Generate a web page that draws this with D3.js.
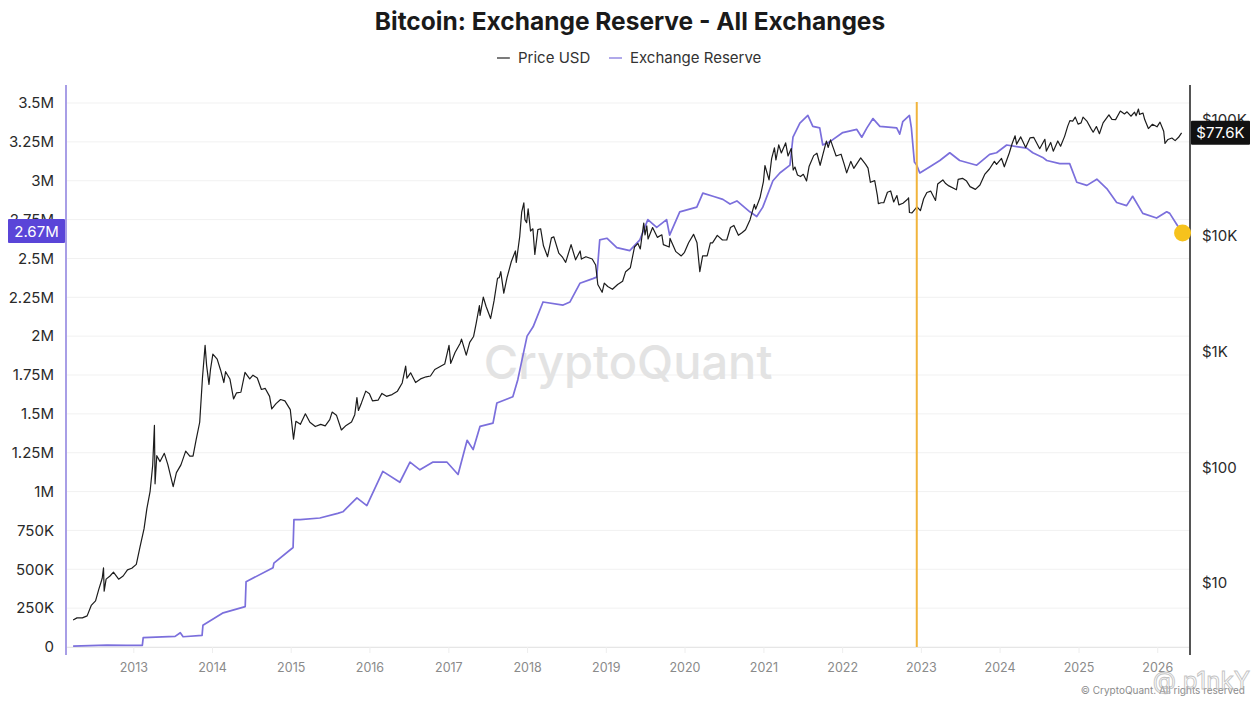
<!DOCTYPE html>
<html>
<head>
<meta charset="utf-8">
<script src="https://cdn.jsdelivr.net/npm/d3@7"></script>
<style>
  html, body { margin: 0; padding: 0; background: #fff; }
  svg { display: block; font-family: Inter, "Noto Sans", sans-serif; }
</style>
</head>
<body>
<div id="chart"></div>
<script>
// Axis ticks
const reserveTicks = [0, 250000, 500000, 750000, 1000000, 1250000, 1500000, 1750000, 2000000, 2250000, 2500000, 2750000, 3000000, 3250000, 3500000];
const reserveTickLabels = ["0", "250K", "500K", "750K", "1M", "1.25M", "1.5M", "1.75M", "2M", "2.25M", "2.5M", "2.75M", "3M", "3.25M", "3.5M"];
const priceTicks = [10, 100, 1000, 10000, 100000];
const priceTickLabels = ["$10", "$100", "$1K", "$10K", "$100K"];
const years = [2013, 2014, 2015, 2016, 2017, 2018, 2019, 2020, 2021, 2022, 2023, 2024, 2025, 2026];

// Price USD (log axis, right)
const priceDates = ["2012-03-28","2012-04-15","2012-05-10","2012-06-01","2012-06-20","2012-07-10","2012-07-25","2012-08-10","2012-08-16","2012-08-19","2012-08-28","2012-09-15","2012-10-01","2012-10-25","2012-11-15","2012-12-05","2012-12-25",
"2013-01-15","2013-02-01","2013-02-20","2013-03-05","2013-03-20","2013-04-01","2013-04-09","2013-04-12","2013-04-20","2013-05-05","2013-05-25","2013-06-10","2013-07-05","2013-07-20","2013-08-10","2013-09-01","2013-09-20","2013-10-05","2013-10-20","2013-11-05","2013-11-18","2013-11-30","2013-12-07","2013-12-18","2013-12-25",
"2014-01-05","2014-01-25","2014-02-10","2014-02-25","2014-03-05","2014-03-25","2014-04-11","2014-04-25","2014-05-15","2014-06-03","2014-06-25","2014-07-10","2014-07-30","2014-08-18","2014-09-05","2014-09-25","2014-10-05","2014-10-25","2014-11-15","2014-12-05","2014-12-30",
"2015-01-14","2015-01-25","2015-02-15","2015-03-10","2015-03-31","2015-04-25","2015-05-20","2015-06-10","2015-07-01","2015-07-12","2015-08-01","2015-08-24","2015-09-15","2015-10-10","2015-10-25","2015-11-04","2015-11-11","2015-11-25","2015-12-15",
"2016-01-01","2016-01-15","2016-02-10","2016-02-28","2016-03-20","2016-04-15","2016-05-10","2016-06-01","2016-06-17","2016-06-23","2016-07-10","2016-08-02","2016-08-25","2016-09-20","2016-10-10","2016-10-30","2016-11-20","2016-12-15",
"2017-01-04","2017-01-12","2017-02-01","2017-02-25","2017-03-03","2017-03-25","2017-04-10","2017-04-28","2017-05-10","2017-05-25","2017-05-28","2017-06-12","2017-06-25","2017-07-16","2017-08-01","2017-08-17","2017-08-25","2017-09-01","2017-09-15","2017-09-30","2017-10-20","2017-11-08","2017-11-12","2017-11-28","2017-12-07","2017-12-17","2017-12-22","2017-12-30",
"2018-01-06","2018-01-17","2018-01-28","2018-02-06","2018-02-20","2018-03-05","2018-03-18","2018-04-06","2018-04-24","2018-05-05","2018-05-28","2018-06-15","2018-06-29","2018-07-24","2018-08-14","2018-09-04","2018-09-10","2018-10-01","2018-10-30","2018-11-15","2018-11-25","2018-12-15","2018-12-25",
"2019-01-10","2019-02-01","2019-02-25","2019-03-20","2019-04-03","2019-04-25","2019-05-14","2019-05-30","2019-06-10","2019-06-26","2019-07-02","2019-07-10","2019-07-16","2019-08-06","2019-08-28","2019-09-18","2019-09-25","2019-10-22","2019-10-26","2019-11-22","2019-12-17",
"2020-01-01","2020-01-20","2020-02-12","2020-02-28","2020-03-12","2020-03-25","2020-04-15","2020-04-30","2020-05-10","2020-06-01","2020-06-25","2020-07-15","2020-08-01","2020-08-17","2020-09-07","2020-09-25","2020-10-10","2020-10-31","2020-11-20","2020-11-26","2020-12-16",
"2021-01-01","2021-01-08","2021-01-27","2021-02-08","2021-02-21","2021-02-28","2021-03-13","2021-03-25","2021-04-14","2021-04-25","2021-05-10","2021-05-19","2021-05-27","2021-06-08","2021-06-22","2021-07-05","2021-07-20","2021-08-01","2021-08-22","2021-09-06","2021-09-21","2021-10-05","2021-10-20","2021-10-28","2021-11-08","2021-11-20","2021-12-04","2021-12-27",
"2022-01-10","2022-01-22","2022-02-10","2022-02-24","2022-03-28","2022-04-20","2022-05-01","2022-05-12","2022-06-01","2022-06-13","2022-06-18","2022-07-01","2022-07-13","2022-07-30","2022-08-14","2022-08-28","2022-09-12","2022-09-21","2022-10-10","2022-10-30","2022-11-05","2022-11-09","2022-11-21","2022-12-14","2022-12-30",
"2023-01-14","2023-01-29","2023-02-16","2023-03-10","2023-03-20","2023-04-13","2023-04-26","2023-05-11","2023-06-15","2023-06-23","2023-07-13","2023-08-01","2023-08-17","2023-09-11","2023-10-02","2023-10-24","2023-11-15","2023-12-08","2023-12-18",
"2024-01-10","2024-01-23","2024-02-15","2024-02-28","2024-03-13","2024-03-20","2024-04-08","2024-05-01","2024-05-21","2024-06-07","2024-07-05","2024-07-29","2024-08-05","2024-08-25","2024-09-06","2024-09-27","2024-10-10","2024-10-29","2024-11-12","2024-11-22","2024-12-05","2024-12-17","2024-12-30",
"2025-01-13","2025-01-22","2025-02-10","2025-02-28","2025-03-10","2025-03-25","2025-04-08","2025-04-25","2025-05-22","2025-06-05","2025-06-22","2025-07-14","2025-08-02","2025-08-14","2025-09-01","2025-09-18","2025-09-25","2025-10-06","2025-10-11","2025-10-27","2025-11-04","2025-11-21","2025-12-10","2025-12-31",
"2026-01-14","2026-01-31","2026-02-06","2026-02-20","2026-03-10","2026-03-25","2026-04-10","2026-04-24"];
const priceValues = [4.8,5.0,5.0,5.2,6.4,7.0,8.8,11.0,13.5,8.5,10.8,11.5,12.4,10.8,11.5,13.0,13.4,
14.5,20.4,29.5,44,62,104,230,72,126,112,132,106,68,90,105,138,125,125,175,245,600,1130,760,520,700,
950,860,690,540,670,580,390,440,445,660,580,625,590,470,480,410,320,355,385,375,315,
175,250,235,290,245,225,235,228,258,300,282,210,230,246,285,400,310,360,455,
432,375,380,435,410,425,455,535,750,590,655,540,580,605,615,700,735,780,
1130,790,980,1180,1280,930,1200,1350,1750,2500,2050,2950,2450,1930,2750,4300,4350,4900,3200,4350,6000,7400,5900,9900,16000,19300,13800,13000,
17100,11000,11500,6900,11300,11500,8200,6600,9600,9800,7100,6500,5900,8400,6200,7400,6300,6600,6300,5600,3800,3250,3900,
3650,3450,3800,4050,4900,5300,8000,8600,7700,12900,10200,12200,9400,11800,9700,10200,8400,8000,9500,7300,6700,
7200,8700,10300,8700,4900,6700,6700,8700,8700,10100,9200,9200,11800,12300,10100,10700,11300,13800,18700,17000,21300,
29400,40500,30400,46400,57500,45200,61000,52000,63500,49000,56800,37000,39300,33500,32500,34000,29800,40000,49300,51700,40700,51500,65900,58000,67500,58100,49000,50700,
41800,35000,44000,38300,47100,41400,38500,29000,30000,22500,19000,19300,19300,23800,24400,19600,22300,18500,19100,20600,21300,15900,15800,17800,16500,
20900,23700,24300,20200,28000,30400,28300,27000,25000,30700,31400,29700,26600,25200,27500,33900,37800,44000,41400,
46600,39500,52000,62500,73100,62000,71600,58000,70100,71000,56600,68200,54000,64100,53900,66000,59500,72700,88700,98900,98000,106100,92300,
94500,106000,97400,84400,78600,88000,76300,94600,111000,101500,100900,119800,113000,118000,108000,117000,109000,124700,112000,115000,101000,84500,92000,87500,
96000,80000,63000,68000,70000,66500,71000,77600];

// Exchange Reserve (BTC, left axis)
const reserveDates = ["2012-03-28","2012-09-01","2012-12-03","2013-02-12","2013-02-16","2013-07-14","2013-08-07","2013-08-20","2013-11-16","2013-11-20","2014-02-22","2014-06-04","2014-06-08","2014-10-11","2014-10-15","2015-01-12","2015-01-16","2015-02-14","2015-05-16","2015-08-07","2015-08-31","2015-11-04","2015-12-20",
"2016-03-03","2016-05-21","2016-07-07","2016-08-22","2016-10-22","2016-12-25","2017-02-15","2017-03-29","2017-04-26","2017-05-28","2017-07-27","2017-08-14","2017-10-27","2017-11-19","2018-01-01","2018-01-29","2018-03-16","2018-06-17","2018-07-19","2018-09-03","2018-11-02","2018-11-20","2018-12-04",
"2019-01-06","2019-02-21","2019-04-22","2019-06-08","2019-07-15","2019-08-25","2019-10-10","2019-10-24","2019-12-10","2020-02-27","2020-03-26","2020-05-12","2020-06-27","2020-07-30","2020-08-31","2020-10-30","2020-12-01","2020-12-29",
"2021-02-14","2021-03-18","2021-05-04","2021-05-18","2021-06-19","2021-07-26","2021-08-18","2021-09-19","2021-10-03","2021-11-04","2022-01-04","2022-03-10","2022-04-02","2022-04-26","2022-05-24","2022-06-25","2022-09-11","2022-09-25","2022-10-09","2022-11-09","2022-11-18","2022-12-02","2022-12-13","2022-12-27",
"2023-02-12","2023-03-30","2023-05-15","2023-06-30","2023-09-17","2023-11-16","2023-12-18","2024-02-03","2024-03-20","2024-05-06","2024-06-03","2024-07-19","2024-08-07","2024-10-06","2024-11-21","2024-12-24",
"2025-02-09","2025-03-27","2025-05-12","2025-06-27","2025-08-12","2025-09-09","2025-10-26","2025-12-29","2026-02-14","2026-02-28","2026-04-01","2026-04-24"];
const reserveValues = [0.005,0.012,0.010,0.010,0.060,0.068,0.092,0.066,0.075,0.140,0.220,0.260,0.420,0.510,0.540,0.640,0.820,0.820,0.830,0.860,0.870,0.960,0.910,
1.13,1.06,1.19,1.14,1.19,1.19,1.11,1.33,1.27,1.42,1.44,1.57,1.61,1.72,2.00,2.06,2.22,2.20,2.22,2.34,2.37,2.38,2.62,
2.63,2.57,2.55,2.62,2.75,2.70,2.75,2.65,2.80,2.83,2.92,2.90,2.88,2.85,2.87,2.80,2.77,2.83,
3.00,3.05,3.10,3.28,3.37,3.42,3.35,3.34,3.23,3.25,3.31,3.33,3.28,3.34,3.40,3.35,3.34,3.30,3.38,3.42,3.34,3.12,3.10,3.05,
3.09,3.13,3.18,3.13,3.10,3.17,3.18,3.23,3.22,3.21,3.18,3.15,3.13,3.11,3.11,2.99,
2.97,3.01,2.95,2.86,2.84,2.90,2.79,2.76,2.80,2.79,2.72,2.67].map(v => v * 1e6);

// Highlighted date (vertical marker)
const markerDates = ["2022-12-13"];

function createReserveChart() {
    const width = 1260;
    const height = 704;
    const left = 66, right = 1190, top = 85, bottom = 647;
    const parse = d3.timeParse("%Y-%m-%d");

    const price = priceDates.map((d, i) => ({ date: parse(d), value: priceValues[i] }));
    const reserve = reserveDates.map((d, i) => ({ date: parse(d), value: reserveValues[i] }));

    const svg = d3.select("#chart")
        .append("svg")
        .attr("width", width)
        .attr("height", height);

    const x = d3.scaleTime()
        .domain([parse("2012-02-24"), parse("2026-06-02")])
        .range([left, right]);
    const yL = d3.scaleLinear()
        .domain([0, 3616000])
        .range([bottom, top]);
    const yR = d3.scaleLog()
        .domain([2.8, 201000])
        .range([bottom, top]);

    // Title and legend
    svg.append("text")
        .attr("x", 630).attr("y", 30)
        .attr("text-anchor", "middle")
        .attr("font-size", 24.5).attr("font-weight", 700)
        .attr("fill", "#1a1a1a")
        .text("Bitcoin: Exchange Reserve - All Exchanges");

    const legend = [
        { label: "Price USD", color: "#222", x: 497 },
        { label: "Exchange Reserve", color: "#7b6fdc", x: 609 }
    ];
    legend.forEach(l => {
        svg.append("line")
            .attr("x1", l.x).attr("x2", l.x + 13)
            .attr("y1", 58).attr("y2", 58)
            .attr("stroke", l.color).attr("stroke-width", 1.2);
        svg.append("text")
            .attr("x", l.x + 21).attr("y", 62.5)
            .attr("font-size", 15).attr("fill", "#333")
            .text(l.label);
    });

    // Gridlines
    svg.append("g")
        .selectAll("line")
        .data(reserveTicks)
        .join("line")
        .attr("x1", left).attr("x2", right)
        .attr("y1", d => yL(d)).attr("y2", d => yL(d))
        .attr("stroke", "#f1f1f1");

    // Watermark
    svg.append("text")
        .attr("x", 628).attr("y", 379)
        .attr("text-anchor", "middle")
        .attr("font-size", 47).attr("font-weight", 500)
        .attr("fill", "#e3e3e3")
        .text("CryptoQuant");

    // Bottom axis
    const xAxis = svg.append("g")
        .attr("transform", `translate(0,${bottom})`)
        .call(d3.axisBottom(x)
            .tickValues(years.map(y => new Date(y, 0, 1)))
            .tickFormat(d3.timeFormat("%Y"))
            .tickSize(6).tickPadding(10));
    xAxis.select(".domain").attr("stroke", "#e6e6e6");
    xAxis.selectAll(".tick line").attr("stroke", "#eeeeee");
    xAxis.selectAll(".tick text").attr("fill", "#8a8a8a").attr("font-size", 12.5).attr("font-family", "Inter, sans-serif");

    // Left axis
    const yAxisL = svg.append("g")
        .attr("transform", `translate(${left},0)`)
        .call(d3.axisLeft(yL)
            .tickValues(reserveTicks)
            .tickFormat((d, i) => reserveTickLabels[i])
            .tickSize(0).tickPadding(12));
    yAxisL.select(".domain").remove();
    yAxisL.selectAll(".tick text").attr("fill", "#2a2a2a").attr("font-size", 15).attr("font-family", "Inter, sans-serif");
    svg.append("line")
        .attr("x1", left).attr("x2", left)
        .attr("y1", top).attr("y2", bottom + 8)
        .attr("stroke", "#a89ee6").attr("stroke-width", 2);

    // Right axis
    const yAxisR = svg.append("g")
        .attr("transform", `translate(${right},0)`)
        .call(d3.axisRight(yR)
            .tickValues(priceTicks)
            .tickFormat((d, i) => priceTickLabels[i])
            .tickSize(0).tickPadding(12));
    yAxisR.select(".domain").remove();
    yAxisR.selectAll(".tick text").attr("fill", "#2a2a2a").attr("font-size", 15).attr("font-family", "Inter, sans-serif");
    svg.append("line")
        .attr("x1", right).attr("x2", right)
        .attr("y1", top).attr("y2", bottom + 8)
        .attr("stroke", "#555").attr("stroke-width", 2);

    // Lines
    const priceLine = d3.line()
        .x(d => x(d.date))
        .y(d => yR(d.value));
    const reserveLine = d3.line()
        .x(d => x(d.date))
        .y(d => yL(d.value));

    svg.append("path")
        .datum(reserve)
        .attr("fill", "none")
        .attr("stroke", "#7b6fdc")
        .attr("stroke-width", 1.7)
        .attr("stroke-linejoin", "round")
        .attr("d", reserveLine);

    svg.append("path")
        .datum(price)
        .attr("fill", "none")
        .attr("stroke", "#1c1c1c")
        .attr("stroke-width", 1.2)
        .attr("stroke-linejoin", "round")
        .attr("d", priceLine);

    // Vertical marker
    svg.append("g")
        .selectAll("line")
        .data(markerDates.map(parse))
        .join("line")
        .attr("x1", d => x(d)).attr("x2", d => x(d))
        .attr("y1", 102).attr("y2", bottom)
        .attr("stroke", "#f1b43c").attr("stroke-width", 2);

    // Last value dot
    const lastR = reserve[reserve.length - 1];
    const lastP = price[price.length - 1];
    svg.append("circle")
        .attr("cx", x(lastR.date) + 1).attr("cy", yL(lastR.value) + 1)
        .attr("r", 8.5)
        .attr("fill", "#f6c21c");

    // Last value badges
    const badgeL = svg.append("g").attr("transform", `translate(8,${yL(lastR.value) - 13})`);
    badgeL.append("rect").attr("width", 57).attr("height", 24).attr("rx", 1).attr("fill", "#5a45d8");
    badgeL.append("text")
        .attr("x", 28.5).attr("y", 17.5)
        .attr("text-anchor", "middle")
        .attr("font-size", 15).attr("fill", "#fff")
        .text(d3.format(".3s")(lastR.value));

    const badgeR = svg.append("g").attr("transform", `translate(1191,${yR(lastP.value) - 12})`);
    badgeR.append("rect").attr("width", 59).attr("height", 24).attr("rx", 1).attr("fill", "#111");
    badgeR.append("text")
        .attr("x", 29.5).attr("y", 17.5)
        .attr("text-anchor", "middle")
        .attr("font-size", 15).attr("fill", "#fff")
        .text("$" + d3.format(".3s")(lastP.value).replace("k", "K"));

    // Footer
    svg.append("text")
        .attr("x", 1245).attr("y", 694)
        .attr("text-anchor", "end")
        .attr("font-size", 10).attr("fill", "#8c8c8c")
        .text("© CryptoQuant. All rights reserved");

    svg.append("text")
        .attr("x", 1250).attr("y", 689)
        .attr("text-anchor", "end")
        .attr("font-size", 24)
        .attr("fill", "none")
        .attr("stroke", "#b5b5b5").attr("stroke-width", 0.9)
        .attr("opacity", 0.8)
        .text("@ p1nkY");
}

createReserveChart();
</script>
</body>
</html>
